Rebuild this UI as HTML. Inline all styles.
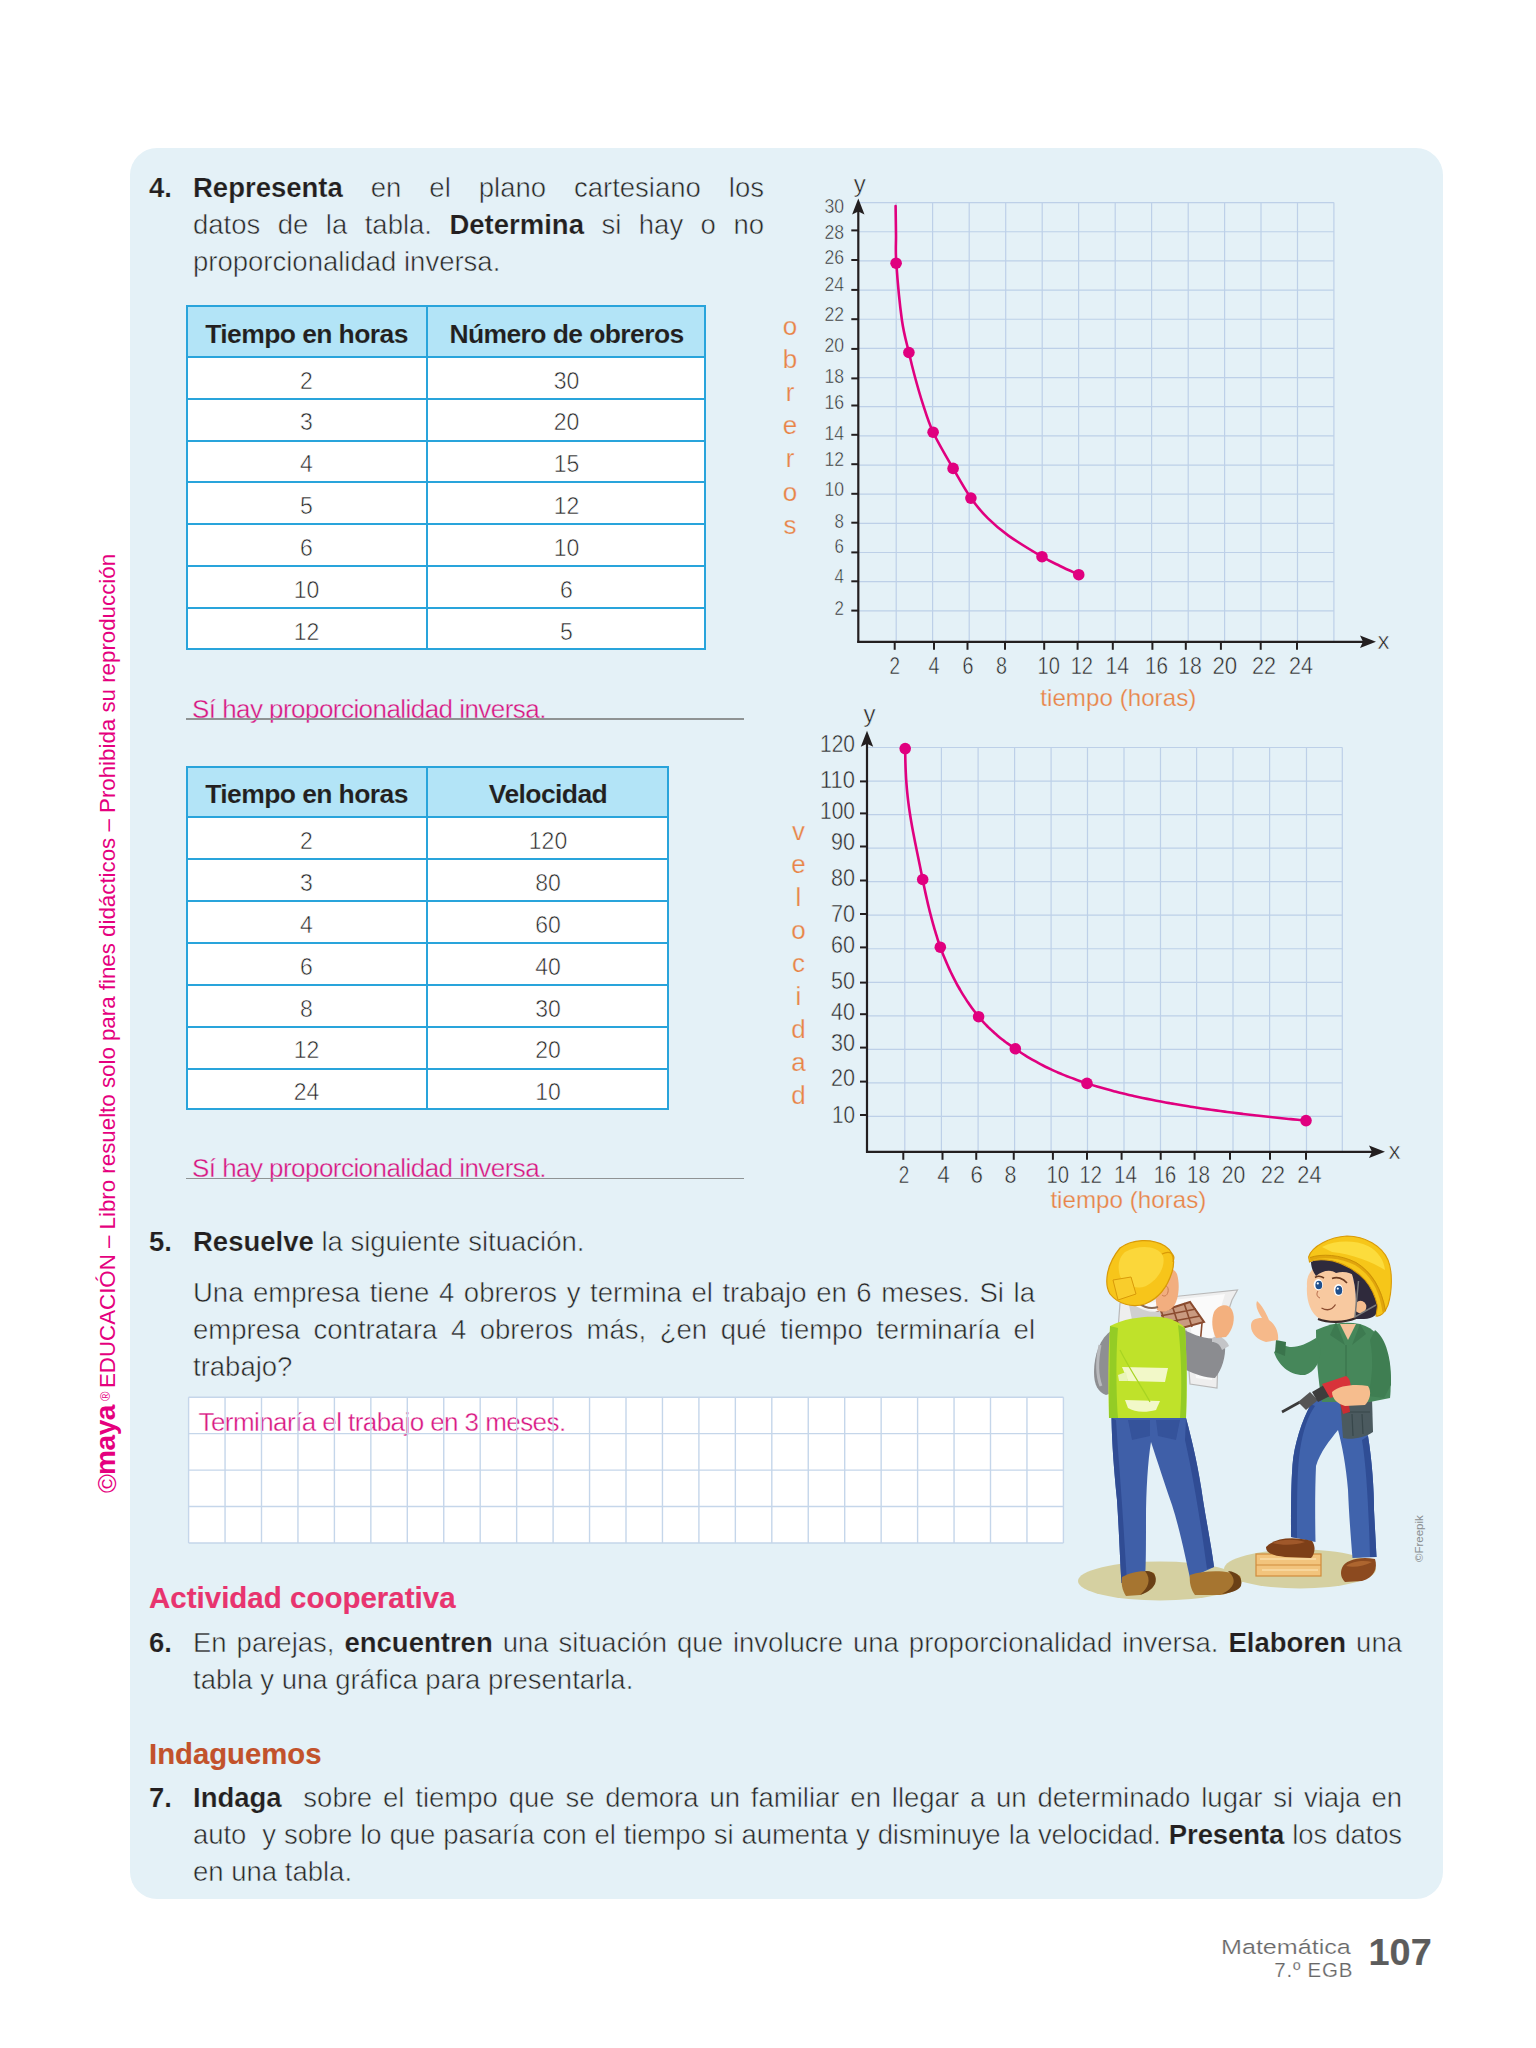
<!DOCTYPE html>
<html><head><meta charset="utf-8"><style>
*{margin:0;padding:0;box-sizing:border-box}
html,body{width:1536px;height:2048px;background:#fff;overflow:hidden}
body{position:relative;font-family:"Liberation Sans",sans-serif;color:#262626}
.panel{position:absolute;left:130px;top:148px;width:1313px;height:1751px;border-radius:27px;background:#e4f1f7}
.ln{position:absolute;line-height:0;white-space:nowrap;-webkit-text-stroke:0.55px #e4f1f7}
.tb .ln{-webkit-text-stroke:0.55px #fff}
b{-webkit-text-stroke:0.2px #e4f1f7}
.j{text-align:justify;text-align-last:justify;white-space:normal}
b{font-weight:bold;color:#231f20}
svg{position:absolute;left:0;top:0}
</style></head>
<body><div class="panel"></div>
<div class="ln" style="left:149px;top:187.97px;font-size:27.5px;"><b>4.</b></div><div class="ln j" style="left:193px;top:187.97px;font-size:27.5px;width:571px;"><b>Representa</b> en el plano cartesiano los</div><div class="ln j" style="left:193px;top:225.07px;font-size:27.5px;width:571px;">datos de la tabla. <b>Determina</b> si hay o no</div><div class="ln" style="left:193px;top:262.07px;font-size:27.5px;">proporcionalidad inversa.</div><div class="tb" style="position:absolute;left:186px;top:305px;width:520px;height:344.95px;"><div style="position:absolute;left:0;top:0;width:520px;height:52px;background:#b3e4f7"></div><div style="position:absolute;left:0;top:52px;width:520px;height:292.95px;background:#fff"></div><div class="ln" style="left:0px;width:241px;text-align:center;top:28.72px;font-size:26.5px;font-weight:bold;color:#231f20;letter-spacing:-0.6px;-webkit-text-stroke:0.1px #b3e4f7">Tiempo en horas</div><div class="ln" style="left:0px;width:241px;text-align:center;top:75.63px;font-size:23px">2</div><div class="ln" style="left:0px;width:241px;text-align:center;top:117.48px;font-size:23px">3</div><div class="ln" style="left:0px;width:241px;text-align:center;top:159.33px;font-size:23px">4</div><div class="ln" style="left:0px;width:241px;text-align:center;top:201.18px;font-size:23px">5</div><div class="ln" style="left:0px;width:241px;text-align:center;top:243.03px;font-size:23px">6</div><div class="ln" style="left:0px;width:241px;text-align:center;top:284.88px;font-size:23px">10</div><div class="ln" style="left:0px;width:241px;text-align:center;top:326.73px;font-size:23px">12</div><div class="ln" style="left:241px;width:279px;text-align:center;top:28.72px;font-size:26.5px;font-weight:bold;color:#231f20;letter-spacing:-0.6px;-webkit-text-stroke:0.1px #b3e4f7">Número de obreros</div><div class="ln" style="left:241px;width:279px;text-align:center;top:75.63px;font-size:23px">30</div><div class="ln" style="left:241px;width:279px;text-align:center;top:117.48px;font-size:23px">20</div><div class="ln" style="left:241px;width:279px;text-align:center;top:159.33px;font-size:23px">15</div><div class="ln" style="left:241px;width:279px;text-align:center;top:201.18px;font-size:23px">12</div><div class="ln" style="left:241px;width:279px;text-align:center;top:243.03px;font-size:23px">10</div><div class="ln" style="left:241px;width:279px;text-align:center;top:284.88px;font-size:23px">6</div><div class="ln" style="left:241px;width:279px;text-align:center;top:326.73px;font-size:23px">5</div><div style="position:absolute;left:0;top:0;width:520px;height:344.95px;border:2.2px solid #29a4db"></div><div style="position:absolute;left:0;top:51.00px;width:520px;height:2.2px;background:#29a4db"></div><div style="position:absolute;left:0;top:93.00px;width:520px;height:2.2px;background:#29a4db"></div><div style="position:absolute;left:0;top:135.00px;width:520px;height:2.2px;background:#29a4db"></div><div style="position:absolute;left:0;top:176.00px;width:520px;height:2.2px;background:#29a4db"></div><div style="position:absolute;left:0;top:218.00px;width:520px;height:2.2px;background:#29a4db"></div><div style="position:absolute;left:0;top:260.00px;width:520px;height:2.2px;background:#29a4db"></div><div style="position:absolute;left:0;top:302.00px;width:520px;height:2.2px;background:#29a4db"></div><div style="position:absolute;left:240px;top:0;width:2.2px;height:344.95px;background:#29a4db"></div></div><div class="tb" style="position:absolute;left:186px;top:765.5px;width:483px;height:344.95px;"><div style="position:absolute;left:0;top:0;width:483px;height:52px;background:#b3e4f7"></div><div style="position:absolute;left:0;top:52px;width:483px;height:292.95px;background:#fff"></div><div class="ln" style="left:0px;width:241px;text-align:center;top:28.72px;font-size:26.5px;font-weight:bold;color:#231f20;letter-spacing:-0.6px;-webkit-text-stroke:0.1px #b3e4f7">Tiempo en horas</div><div class="ln" style="left:0px;width:241px;text-align:center;top:75.63px;font-size:23px">2</div><div class="ln" style="left:0px;width:241px;text-align:center;top:117.48px;font-size:23px">3</div><div class="ln" style="left:0px;width:241px;text-align:center;top:159.33px;font-size:23px">4</div><div class="ln" style="left:0px;width:241px;text-align:center;top:201.18px;font-size:23px">6</div><div class="ln" style="left:0px;width:241px;text-align:center;top:243.03px;font-size:23px">8</div><div class="ln" style="left:0px;width:241px;text-align:center;top:284.88px;font-size:23px">12</div><div class="ln" style="left:0px;width:241px;text-align:center;top:326.73px;font-size:23px">24</div><div class="ln" style="left:241px;width:242px;text-align:center;top:28.72px;font-size:26.5px;font-weight:bold;color:#231f20;letter-spacing:-0.6px;-webkit-text-stroke:0.1px #b3e4f7">Velocidad</div><div class="ln" style="left:241px;width:242px;text-align:center;top:75.63px;font-size:23px">120</div><div class="ln" style="left:241px;width:242px;text-align:center;top:117.48px;font-size:23px">80</div><div class="ln" style="left:241px;width:242px;text-align:center;top:159.33px;font-size:23px">60</div><div class="ln" style="left:241px;width:242px;text-align:center;top:201.18px;font-size:23px">40</div><div class="ln" style="left:241px;width:242px;text-align:center;top:243.03px;font-size:23px">30</div><div class="ln" style="left:241px;width:242px;text-align:center;top:284.88px;font-size:23px">20</div><div class="ln" style="left:241px;width:242px;text-align:center;top:326.73px;font-size:23px">10</div><div style="position:absolute;left:0;top:0;width:483px;height:344.95px;border:2.2px solid #29a4db"></div><div style="position:absolute;left:0;top:50.50px;width:483px;height:2.2px;background:#29a4db"></div><div style="position:absolute;left:0;top:92.50px;width:483px;height:2.2px;background:#29a4db"></div><div style="position:absolute;left:0;top:134.50px;width:483px;height:2.2px;background:#29a4db"></div><div style="position:absolute;left:0;top:176.50px;width:483px;height:2.2px;background:#29a4db"></div><div style="position:absolute;left:0;top:218.50px;width:483px;height:2.2px;background:#29a4db"></div><div style="position:absolute;left:0;top:260.50px;width:483px;height:2.2px;background:#29a4db"></div><div style="position:absolute;left:0;top:302.50px;width:483px;height:2.2px;background:#29a4db"></div><div style="position:absolute;left:240px;top:0;width:2.2px;height:344.95px;background:#29a4db"></div></div><div class="ln" style="left:192px;top:709.49px;font-size:26px;color:#d81682;letter-spacing:-0.55px;-webkit-text-stroke:0.35px #e4f1f7;">Sí hay proporcionalidad inversa.</div><div style="position:absolute;left:186px;top:718.3px;width:558px;height:1.6px;background:#8f9394"></div><div class="ln" style="left:192px;top:1168.49px;font-size:26px;color:#d81682;letter-spacing:-0.55px;-webkit-text-stroke:0.35px #e4f1f7;">Sí hay proporcionalidad inversa.</div><div style="position:absolute;left:186px;top:1177.5px;width:558px;height:1.6px;background:#8f9394"></div><div class="ln" style="left:149px;top:1242.27px;font-size:27.5px;"><b>5.</b></div><div class="ln" style="left:193px;top:1242.27px;font-size:27.5px;"><b>Resuelve</b> la siguiente situación.</div><div class="ln j" style="left:193px;top:1293.37px;font-size:27.5px;width:842px;">Una empresa tiene 4 obreros y termina el trabajo en 6 meses. Si la</div><div class="ln j" style="left:193px;top:1330.17px;font-size:27.5px;width:842px;">empresa contratara 4 obreros más, ¿en qué tiempo terminaría el</div><div class="ln" style="left:193px;top:1366.57px;font-size:27.5px;">trabajo?</div><svg width="1536" height="2048" style="position:absolute;left:0;top:0"><rect x="188.6" y="1397.2" width="874.80" height="145.80" fill="#fff"/></svg><div class="ln" style="left:198.5px;top:1422.19px;font-size:26px;color:#d81682;letter-spacing:-0.57px;-webkit-text-stroke:0.35px #fff;">Terminaría el trabajo en 3 meses.</div><svg width="1536" height="2048" style="position:absolute;left:0;top:0"><line x1="188.60" y1="1397.2" x2="188.60" y2="1543.00" stroke="#c5d6ea" stroke-width="1.4"/><line x1="225.05" y1="1397.2" x2="225.05" y2="1543.00" stroke="#c5d6ea" stroke-width="1.4"/><line x1="261.50" y1="1397.2" x2="261.50" y2="1543.00" stroke="#c5d6ea" stroke-width="1.4"/><line x1="297.95" y1="1397.2" x2="297.95" y2="1543.00" stroke="#c5d6ea" stroke-width="1.4"/><line x1="334.40" y1="1397.2" x2="334.40" y2="1543.00" stroke="#c5d6ea" stroke-width="1.4"/><line x1="370.85" y1="1397.2" x2="370.85" y2="1543.00" stroke="#c5d6ea" stroke-width="1.4"/><line x1="407.30" y1="1397.2" x2="407.30" y2="1543.00" stroke="#c5d6ea" stroke-width="1.4"/><line x1="443.75" y1="1397.2" x2="443.75" y2="1543.00" stroke="#c5d6ea" stroke-width="1.4"/><line x1="480.20" y1="1397.2" x2="480.20" y2="1543.00" stroke="#c5d6ea" stroke-width="1.4"/><line x1="516.65" y1="1397.2" x2="516.65" y2="1543.00" stroke="#c5d6ea" stroke-width="1.4"/><line x1="553.10" y1="1397.2" x2="553.10" y2="1543.00" stroke="#c5d6ea" stroke-width="1.4"/><line x1="589.55" y1="1397.2" x2="589.55" y2="1543.00" stroke="#c5d6ea" stroke-width="1.4"/><line x1="626.00" y1="1397.2" x2="626.00" y2="1543.00" stroke="#c5d6ea" stroke-width="1.4"/><line x1="662.45" y1="1397.2" x2="662.45" y2="1543.00" stroke="#c5d6ea" stroke-width="1.4"/><line x1="698.90" y1="1397.2" x2="698.90" y2="1543.00" stroke="#c5d6ea" stroke-width="1.4"/><line x1="735.35" y1="1397.2" x2="735.35" y2="1543.00" stroke="#c5d6ea" stroke-width="1.4"/><line x1="771.80" y1="1397.2" x2="771.80" y2="1543.00" stroke="#c5d6ea" stroke-width="1.4"/><line x1="808.25" y1="1397.2" x2="808.25" y2="1543.00" stroke="#c5d6ea" stroke-width="1.4"/><line x1="844.70" y1="1397.2" x2="844.70" y2="1543.00" stroke="#c5d6ea" stroke-width="1.4"/><line x1="881.15" y1="1397.2" x2="881.15" y2="1543.00" stroke="#c5d6ea" stroke-width="1.4"/><line x1="917.60" y1="1397.2" x2="917.60" y2="1543.00" stroke="#c5d6ea" stroke-width="1.4"/><line x1="954.05" y1="1397.2" x2="954.05" y2="1543.00" stroke="#c5d6ea" stroke-width="1.4"/><line x1="990.50" y1="1397.2" x2="990.50" y2="1543.00" stroke="#c5d6ea" stroke-width="1.4"/><line x1="1026.95" y1="1397.2" x2="1026.95" y2="1543.00" stroke="#c5d6ea" stroke-width="1.4"/><line x1="1063.40" y1="1397.2" x2="1063.40" y2="1543.00" stroke="#c5d6ea" stroke-width="1.4"/><line x1="188.6" y1="1397.20" x2="1063.40" y2="1397.20" stroke="#c5d6ea" stroke-width="1.4"/><line x1="188.6" y1="1433.65" x2="1063.40" y2="1433.65" stroke="#c5d6ea" stroke-width="1.4"/><line x1="188.6" y1="1470.10" x2="1063.40" y2="1470.10" stroke="#c5d6ea" stroke-width="1.4"/><line x1="188.6" y1="1506.55" x2="1063.40" y2="1506.55" stroke="#c5d6ea" stroke-width="1.4"/><line x1="188.6" y1="1543.00" x2="1063.40" y2="1543.00" stroke="#c5d6ea" stroke-width="1.4"/></svg><div class="ln" style="left:149px;top:1598.08px;font-size:29.5px;color:#e8346f;font-weight:bold;-webkit-text-stroke:0.15px #e8346f;">Actividad cooperativa</div><div class="ln" style="left:149px;top:1642.77px;font-size:27.5px;"><b>6.</b></div><div class="ln j" style="left:193px;top:1642.77px;font-size:27.5px;width:1209px;">En parejas, <b>encuentren</b> una situación que involucre una proporcionalidad inversa. <b>Elaboren</b> una</div><div class="ln" style="left:193px;top:1680.17px;font-size:27.5px;">tabla y una gráfica para presentarla.</div><div class="ln" style="left:149px;top:1754.45px;font-size:29.3px;color:#c2522b;font-weight:bold;-webkit-text-stroke:0.15px #c2522b;">Indaguemos</div><div class="ln" style="left:149px;top:1798.37px;font-size:27.5px;"><b>7.</b></div><div class="ln j" style="left:193px;top:1798.37px;font-size:27.5px;width:1209px;"><b>Indaga</b>&nbsp; sobre el tiempo que se demora un familiar en llegar a un determinado lugar si viaja en</div><div class="ln j" style="left:193px;top:1835.37px;font-size:27.5px;width:1209px;letter-spacing:-0.1px;">auto&nbsp; y sobre lo que pasaría con el tiempo si aumenta y disminuye la velocidad. <b>Presenta</b> los datos</div><div class="ln" style="left:193px;top:1872.27px;font-size:27.5px;">en una tabla.</div><div class="ln" style="left:1221.3px;top:1946.70px;font-size:20.5px;color:#686868;transform:scaleX(1.225);transform-origin:0 0;-webkit-text-stroke:0.2px #fff;">Matemática</div><div class="ln" style="left:1274.3px;top:1970.00px;font-size:20.5px;color:#686868;letter-spacing:0.75px;-webkit-text-stroke:0.2px #fff;">7.º EGB</div><div class="ln" style="left:1368.6px;top:1951.60px;font-size:37.8px;color:#5c5c5c;font-weight:bold;-webkit-text-stroke:0.2px #5c5c5c;">107</div><div style="position:absolute;left:107.16px;top:1493.2px;transform-origin:0 0;transform:rotate(-90deg);white-space:nowrap;line-height:0;font-size:25.5px;color:#e5007e;">©</div><div style="position:absolute;left:106.30px;top:1474.5px;transform-origin:0 0;transform:rotate(-90deg);white-space:nowrap;line-height:0;font-size:28px;color:#e5007e;font-weight:bold;letter-spacing:-0.4px;">maya</div><div style="position:absolute;left:105.50px;top:1401px;transform-origin:0 0;transform:rotate(-90deg);white-space:nowrap;line-height:0;font-size:13px;color:#e5007e;">®</div><div style="position:absolute;left:108.27px;top:1387.6px;transform-origin:0 0;transform:rotate(-90deg);white-space:nowrap;line-height:0;font-size:22.3px;color:#e5007e;">EDUCACIÓN – Libro resuelto solo para fines didácticos – Prohibida su reproducción</div><svg width="1536" height="2048" style="position:absolute;left:0;top:0" font-family="Liberation Sans, sans-serif"><line x1="896.20" y1="202.60" x2="896.20" y2="641.80" stroke="#bdd0e8" stroke-width="1.2"/><line x1="932.60" y1="202.60" x2="932.60" y2="641.80" stroke="#bdd0e8" stroke-width="1.2"/><line x1="969.20" y1="202.60" x2="969.20" y2="641.80" stroke="#bdd0e8" stroke-width="1.2"/><line x1="1005.70" y1="202.60" x2="1005.70" y2="641.80" stroke="#bdd0e8" stroke-width="1.2"/><line x1="1042.20" y1="202.60" x2="1042.20" y2="641.80" stroke="#bdd0e8" stroke-width="1.2"/><line x1="1078.60" y1="202.60" x2="1078.60" y2="641.80" stroke="#bdd0e8" stroke-width="1.2"/><line x1="1115.20" y1="202.60" x2="1115.20" y2="641.80" stroke="#bdd0e8" stroke-width="1.2"/><line x1="1151.60" y1="202.60" x2="1151.60" y2="641.80" stroke="#bdd0e8" stroke-width="1.2"/><line x1="1188.20" y1="202.60" x2="1188.20" y2="641.80" stroke="#bdd0e8" stroke-width="1.2"/><line x1="1224.60" y1="202.60" x2="1224.60" y2="641.80" stroke="#bdd0e8" stroke-width="1.2"/><line x1="1261.00" y1="202.60" x2="1261.00" y2="641.80" stroke="#bdd0e8" stroke-width="1.2"/><line x1="1297.50" y1="202.60" x2="1297.50" y2="641.80" stroke="#bdd0e8" stroke-width="1.2"/><line x1="1333.90" y1="202.60" x2="1333.90" y2="641.80" stroke="#bdd0e8" stroke-width="1.2"/><line x1="858.30" y1="202.60" x2="1333.90" y2="202.60" stroke="#bdd0e8" stroke-width="1.2"/><line x1="858.30" y1="231.76" x2="1333.90" y2="231.76" stroke="#bdd0e8" stroke-width="1.2"/><line x1="858.30" y1="260.92" x2="1333.90" y2="260.92" stroke="#bdd0e8" stroke-width="1.2"/><line x1="858.30" y1="290.08" x2="1333.90" y2="290.08" stroke="#bdd0e8" stroke-width="1.2"/><line x1="858.30" y1="319.24" x2="1333.90" y2="319.24" stroke="#bdd0e8" stroke-width="1.2"/><line x1="858.30" y1="348.40" x2="1333.90" y2="348.40" stroke="#bdd0e8" stroke-width="1.2"/><line x1="858.30" y1="377.56" x2="1333.90" y2="377.56" stroke="#bdd0e8" stroke-width="1.2"/><line x1="858.30" y1="406.72" x2="1333.90" y2="406.72" stroke="#bdd0e8" stroke-width="1.2"/><line x1="858.30" y1="435.88" x2="1333.90" y2="435.88" stroke="#bdd0e8" stroke-width="1.2"/><line x1="858.30" y1="465.04" x2="1333.90" y2="465.04" stroke="#bdd0e8" stroke-width="1.2"/><line x1="858.30" y1="494.20" x2="1333.90" y2="494.20" stroke="#bdd0e8" stroke-width="1.2"/><line x1="858.30" y1="523.36" x2="1333.90" y2="523.36" stroke="#bdd0e8" stroke-width="1.2"/><line x1="858.30" y1="552.52" x2="1333.90" y2="552.52" stroke="#bdd0e8" stroke-width="1.2"/><line x1="858.30" y1="581.68" x2="1333.90" y2="581.68" stroke="#bdd0e8" stroke-width="1.2"/><line x1="858.30" y1="610.84" x2="1333.90" y2="610.84" stroke="#bdd0e8" stroke-width="1.2"/><line x1="858.30" y1="206.60" x2="858.30" y2="642.80" stroke="#231f20" stroke-width="2.2"/><line x1="857.30" y1="641.80" x2="1368.00" y2="641.80" stroke="#231f20" stroke-width="2.2"/><path d="M858.30,198.60 L864.50,214.60 L858.30,211.60 L852.10,214.60Z" fill="#231f20"/><path d="M1376.00,641.80 L1360.00,635.60 L1363.00,641.80 L1360.00,648.00Z" fill="#231f20"/><line x1="851.30" y1="230.40" x2="858.30" y2="230.40" stroke="#231f20" stroke-width="2"/><line x1="851.30" y1="260.00" x2="858.30" y2="260.00" stroke="#231f20" stroke-width="2"/><line x1="851.30" y1="289.90" x2="858.30" y2="289.90" stroke="#231f20" stroke-width="2"/><line x1="851.30" y1="319.20" x2="858.30" y2="319.20" stroke="#231f20" stroke-width="2"/><line x1="851.30" y1="348.90" x2="858.30" y2="348.90" stroke="#231f20" stroke-width="2"/><line x1="851.30" y1="378.40" x2="858.30" y2="378.40" stroke="#231f20" stroke-width="2"/><line x1="851.30" y1="405.50" x2="858.30" y2="405.50" stroke="#231f20" stroke-width="2"/><line x1="851.30" y1="434.80" x2="858.30" y2="434.80" stroke="#231f20" stroke-width="2"/><line x1="851.30" y1="464.20" x2="858.30" y2="464.20" stroke="#231f20" stroke-width="2"/><line x1="851.30" y1="493.80" x2="858.30" y2="493.80" stroke="#231f20" stroke-width="2"/><line x1="851.30" y1="522.70" x2="858.30" y2="522.70" stroke="#231f20" stroke-width="2"/><line x1="851.30" y1="552.40" x2="858.30" y2="552.40" stroke="#231f20" stroke-width="2"/><line x1="851.30" y1="581.30" x2="858.30" y2="581.30" stroke="#231f20" stroke-width="2"/><line x1="851.30" y1="610.60" x2="858.30" y2="610.60" stroke="#231f20" stroke-width="2"/><line x1="894.70" y1="641.80" x2="894.70" y2="649.80" stroke="#231f20" stroke-width="2"/><line x1="934.00" y1="641.80" x2="934.00" y2="649.80" stroke="#231f20" stroke-width="2"/><line x1="967.50" y1="641.80" x2="967.50" y2="649.80" stroke="#231f20" stroke-width="2"/><line x1="1005.00" y1="641.80" x2="1005.00" y2="649.80" stroke="#231f20" stroke-width="2"/><line x1="1044.20" y1="641.80" x2="1044.20" y2="649.80" stroke="#231f20" stroke-width="2"/><line x1="1077.60" y1="641.80" x2="1077.60" y2="649.80" stroke="#231f20" stroke-width="2"/><line x1="1112.80" y1="641.80" x2="1112.80" y2="649.80" stroke="#231f20" stroke-width="2"/><line x1="1152.40" y1="641.80" x2="1152.40" y2="649.80" stroke="#231f20" stroke-width="2"/><line x1="1185.80" y1="641.80" x2="1185.80" y2="649.80" stroke="#231f20" stroke-width="2"/><line x1="1220.90" y1="641.80" x2="1220.90" y2="649.80" stroke="#231f20" stroke-width="2"/><line x1="1260.70" y1="641.80" x2="1260.70" y2="649.80" stroke="#231f20" stroke-width="2"/><line x1="1297.00" y1="641.80" x2="1297.00" y2="649.80" stroke="#231f20" stroke-width="2"/><text x="844.00" y="212.90" font-size="20.2" fill="#262626" stroke="#e4f1f7" stroke-width="0.5" text-anchor="end" textLength="19.6" lengthAdjust="spacingAndGlyphs">30</text><text x="844.00" y="238.60" font-size="20.2" fill="#262626" stroke="#e4f1f7" stroke-width="0.5" text-anchor="end" textLength="19.6" lengthAdjust="spacingAndGlyphs">28</text><text x="844.00" y="264.40" font-size="20.2" fill="#262626" stroke="#e4f1f7" stroke-width="0.5" text-anchor="end" textLength="19.6" lengthAdjust="spacingAndGlyphs">26</text><text x="844.00" y="290.60" font-size="20.2" fill="#262626" stroke="#e4f1f7" stroke-width="0.5" text-anchor="end" textLength="19.6" lengthAdjust="spacingAndGlyphs">24</text><text x="844.00" y="321.40" font-size="20.2" fill="#262626" stroke="#e4f1f7" stroke-width="0.5" text-anchor="end" textLength="19.6" lengthAdjust="spacingAndGlyphs">22</text><text x="844.00" y="352.20" font-size="20.2" fill="#262626" stroke="#e4f1f7" stroke-width="0.5" text-anchor="end" textLength="19.6" lengthAdjust="spacingAndGlyphs">20</text><text x="844.00" y="383.00" font-size="20.2" fill="#262626" stroke="#e4f1f7" stroke-width="0.5" text-anchor="end" textLength="19.6" lengthAdjust="spacingAndGlyphs">18</text><text x="844.00" y="408.60" font-size="20.2" fill="#262626" stroke="#e4f1f7" stroke-width="0.5" text-anchor="end" textLength="19.6" lengthAdjust="spacingAndGlyphs">16</text><text x="844.00" y="439.90" font-size="20.2" fill="#262626" stroke="#e4f1f7" stroke-width="0.5" text-anchor="end" textLength="19.6" lengthAdjust="spacingAndGlyphs">14</text><text x="844.00" y="465.50" font-size="20.2" fill="#262626" stroke="#e4f1f7" stroke-width="0.5" text-anchor="end" textLength="19.6" lengthAdjust="spacingAndGlyphs">12</text><text x="844.00" y="496.30" font-size="20.2" fill="#262626" stroke="#e4f1f7" stroke-width="0.5" text-anchor="end" textLength="19.6" lengthAdjust="spacingAndGlyphs">10</text><text x="844.00" y="527.50" font-size="20.2" fill="#262626" stroke="#e4f1f7" stroke-width="0.5" text-anchor="end" textLength="9.4" lengthAdjust="spacingAndGlyphs">8</text><text x="844.00" y="552.70" font-size="20.2" fill="#262626" stroke="#e4f1f7" stroke-width="0.5" text-anchor="end" textLength="9.4" lengthAdjust="spacingAndGlyphs">6</text><text x="844.00" y="583.40" font-size="20.2" fill="#262626" stroke="#e4f1f7" stroke-width="0.5" text-anchor="end" textLength="9.4" lengthAdjust="spacingAndGlyphs">4</text><text x="844.00" y="614.50" font-size="20.2" fill="#262626" stroke="#e4f1f7" stroke-width="0.5" text-anchor="end" textLength="9.4" lengthAdjust="spacingAndGlyphs">2</text><text x="889.50" y="673.50" font-size="23.5" fill="#262626" stroke="#e4f1f7" stroke-width="0.5" textLength="10.5" lengthAdjust="spacingAndGlyphs">2</text><text x="928.50" y="673.50" font-size="23.5" fill="#262626" stroke="#e4f1f7" stroke-width="0.5" textLength="11" lengthAdjust="spacingAndGlyphs">4</text><text x="962.50" y="673.50" font-size="23.5" fill="#262626" stroke="#e4f1f7" stroke-width="0.5" textLength="11" lengthAdjust="spacingAndGlyphs">6</text><text x="996.00" y="673.50" font-size="23.5" fill="#262626" stroke="#e4f1f7" stroke-width="0.5" textLength="11" lengthAdjust="spacingAndGlyphs">8</text><text x="1037.50" y="673.50" font-size="23.5" fill="#262626" stroke="#e4f1f7" stroke-width="0.5" textLength="22.3" lengthAdjust="spacingAndGlyphs">10</text><text x="1070.70" y="673.50" font-size="23.5" fill="#262626" stroke="#e4f1f7" stroke-width="0.5" textLength="22.3" lengthAdjust="spacingAndGlyphs">12</text><text x="1105.40" y="673.50" font-size="23.5" fill="#262626" stroke="#e4f1f7" stroke-width="0.5" textLength="23.5" lengthAdjust="spacingAndGlyphs">14</text><text x="1145.00" y="673.50" font-size="23.5" fill="#262626" stroke="#e4f1f7" stroke-width="0.5" textLength="23" lengthAdjust="spacingAndGlyphs">16</text><text x="1178.30" y="673.50" font-size="23.5" fill="#262626" stroke="#e4f1f7" stroke-width="0.5" textLength="23.5" lengthAdjust="spacingAndGlyphs">18</text><text x="1212.50" y="673.50" font-size="23.5" fill="#262626" stroke="#e4f1f7" stroke-width="0.5" textLength="24.7" lengthAdjust="spacingAndGlyphs">20</text><text x="1252.00" y="673.50" font-size="23.5" fill="#262626" stroke="#e4f1f7" stroke-width="0.5" textLength="24" lengthAdjust="spacingAndGlyphs">22</text><text x="1289.00" y="673.50" font-size="23.5" fill="#262626" stroke="#e4f1f7" stroke-width="0.5" textLength="24" lengthAdjust="spacingAndGlyphs">24</text><path d="M895.60,206.00 C895.67,210.83 895.88,225.47 896.00,235.00 C896.12,244.53 895.32,249.03 896.30,263.20 C897.28,277.37 899.80,305.12 901.90,320.00 C904.00,334.88 906.77,343.17 908.90,352.50 C911.03,361.83 912.43,367.62 914.70,376.00 C916.97,384.38 919.43,393.43 922.50,402.80 C925.57,412.17 928.00,421.27 933.10,432.20 C938.20,443.13 946.80,457.42 953.10,468.40 C959.40,479.38 965.08,489.77 970.90,498.10 C976.72,506.43 981.75,512.15 988.00,518.40 C994.25,524.65 999.40,529.22 1008.40,535.60 C1017.40,541.98 1033.40,551.63 1042.00,556.70 C1050.60,561.77 1053.88,563.00 1060.00,566.00 C1066.12,569.00 1075.62,573.25 1078.75,574.70" fill="none" stroke="#e0007f" stroke-width="2.6" stroke-linecap="round"/><circle cx="896.10" cy="263.20" r="5.8" fill="#e0007f"/><circle cx="908.90" cy="352.50" r="5.8" fill="#e0007f"/><circle cx="933.10" cy="432.20" r="5.8" fill="#e0007f"/><circle cx="953.10" cy="468.40" r="5.8" fill="#e0007f"/><circle cx="970.90" cy="498.10" r="5.8" fill="#e0007f"/><circle cx="1042.00" cy="556.70" r="5.8" fill="#e0007f"/><circle cx="1078.75" cy="574.70" r="5.8" fill="#e0007f"/><text x="790.00" y="334.50" font-size="26" fill="#e98346" stroke="#e4f1f7" stroke-width="0.25" text-anchor="middle">o</text><text x="790.00" y="367.70" font-size="26" fill="#e98346" stroke="#e4f1f7" stroke-width="0.25" text-anchor="middle">b</text><text x="790.00" y="400.90" font-size="26" fill="#e98346" stroke="#e4f1f7" stroke-width="0.25" text-anchor="middle">r</text><text x="790.00" y="434.10" font-size="26" fill="#e98346" stroke="#e4f1f7" stroke-width="0.25" text-anchor="middle">e</text><text x="790.00" y="467.30" font-size="26" fill="#e98346" stroke="#e4f1f7" stroke-width="0.25" text-anchor="middle">r</text><text x="790.00" y="500.50" font-size="26" fill="#e98346" stroke="#e4f1f7" stroke-width="0.25" text-anchor="middle">o</text><text x="790.00" y="533.70" font-size="26" fill="#e98346" stroke="#e4f1f7" stroke-width="0.25" text-anchor="middle">s</text><text x="1040.30" y="705.50" font-size="24" fill="#e98346" stroke="#e4f1f7" stroke-width="0.25" textLength="156" lengthAdjust="spacingAndGlyphs">tiempo (horas)</text><text x="853.80" y="192.00" font-size="24" fill="#231f20" stroke="#e4f1f7" stroke-width="0.5">y</text><text x="1377.50" y="648.50" font-size="24" fill="#231f20" stroke="#e4f1f7" stroke-width="0.5">x</text><line x1="904.80" y1="747.50" x2="904.80" y2="1151.80" stroke="#bdd0e8" stroke-width="1.2"/><line x1="941.40" y1="747.50" x2="941.40" y2="1151.80" stroke="#bdd0e8" stroke-width="1.2"/><line x1="978.10" y1="747.50" x2="978.10" y2="1151.80" stroke="#bdd0e8" stroke-width="1.2"/><line x1="1014.60" y1="747.50" x2="1014.60" y2="1151.80" stroke="#bdd0e8" stroke-width="1.2"/><line x1="1051.10" y1="747.50" x2="1051.10" y2="1151.80" stroke="#bdd0e8" stroke-width="1.2"/><line x1="1087.50" y1="747.50" x2="1087.50" y2="1151.80" stroke="#bdd0e8" stroke-width="1.2"/><line x1="1124.00" y1="747.50" x2="1124.00" y2="1151.80" stroke="#bdd0e8" stroke-width="1.2"/><line x1="1160.50" y1="747.50" x2="1160.50" y2="1151.80" stroke="#bdd0e8" stroke-width="1.2"/><line x1="1196.60" y1="747.50" x2="1196.60" y2="1151.80" stroke="#bdd0e8" stroke-width="1.2"/><line x1="1233.00" y1="747.50" x2="1233.00" y2="1151.80" stroke="#bdd0e8" stroke-width="1.2"/><line x1="1269.60" y1="747.50" x2="1269.60" y2="1151.80" stroke="#bdd0e8" stroke-width="1.2"/><line x1="1306.50" y1="747.50" x2="1306.50" y2="1151.80" stroke="#bdd0e8" stroke-width="1.2"/><line x1="1342.30" y1="747.50" x2="1342.30" y2="1151.80" stroke="#bdd0e8" stroke-width="1.2"/><line x1="867.00" y1="747.50" x2="1342.30" y2="747.50" stroke="#bdd0e8" stroke-width="1.2"/><line x1="867.00" y1="781.04" x2="1342.30" y2="781.04" stroke="#bdd0e8" stroke-width="1.2"/><line x1="867.00" y1="814.58" x2="1342.30" y2="814.58" stroke="#bdd0e8" stroke-width="1.2"/><line x1="867.00" y1="848.12" x2="1342.30" y2="848.12" stroke="#bdd0e8" stroke-width="1.2"/><line x1="867.00" y1="881.66" x2="1342.30" y2="881.66" stroke="#bdd0e8" stroke-width="1.2"/><line x1="867.00" y1="915.20" x2="1342.30" y2="915.20" stroke="#bdd0e8" stroke-width="1.2"/><line x1="867.00" y1="948.74" x2="1342.30" y2="948.74" stroke="#bdd0e8" stroke-width="1.2"/><line x1="867.00" y1="982.28" x2="1342.30" y2="982.28" stroke="#bdd0e8" stroke-width="1.2"/><line x1="867.00" y1="1015.82" x2="1342.30" y2="1015.82" stroke="#bdd0e8" stroke-width="1.2"/><line x1="867.00" y1="1049.36" x2="1342.30" y2="1049.36" stroke="#bdd0e8" stroke-width="1.2"/><line x1="867.00" y1="1082.90" x2="1342.30" y2="1082.90" stroke="#bdd0e8" stroke-width="1.2"/><line x1="867.00" y1="1116.44" x2="1342.30" y2="1116.44" stroke="#bdd0e8" stroke-width="1.2"/><line x1="867.00" y1="738.70" x2="867.00" y2="1152.80" stroke="#231f20" stroke-width="2.2"/><line x1="866.00" y1="1151.80" x2="1377.00" y2="1151.80" stroke="#231f20" stroke-width="2.2"/><path d="M867.00,730.70 L873.20,746.70 L867.00,743.70 L860.80,746.70Z" fill="#231f20"/><path d="M1385.00,1151.80 L1369.00,1145.60 L1372.00,1151.80 L1369.00,1158.00Z" fill="#231f20"/><line x1="860.00" y1="781.40" x2="867.00" y2="781.40" stroke="#231f20" stroke-width="2"/><line x1="860.00" y1="813.40" x2="867.00" y2="813.40" stroke="#231f20" stroke-width="2"/><line x1="860.00" y1="846.50" x2="867.00" y2="846.50" stroke="#231f20" stroke-width="2"/><line x1="860.00" y1="880.50" x2="867.00" y2="880.50" stroke="#231f20" stroke-width="2"/><line x1="860.00" y1="914.00" x2="867.00" y2="914.00" stroke="#231f20" stroke-width="2"/><line x1="860.00" y1="947.40" x2="867.00" y2="947.40" stroke="#231f20" stroke-width="2"/><line x1="860.00" y1="982.60" x2="867.00" y2="982.60" stroke="#231f20" stroke-width="2"/><line x1="860.00" y1="1014.20" x2="867.00" y2="1014.20" stroke="#231f20" stroke-width="2"/><line x1="860.00" y1="1047.60" x2="867.00" y2="1047.60" stroke="#231f20" stroke-width="2"/><line x1="860.00" y1="1081.60" x2="867.00" y2="1081.60" stroke="#231f20" stroke-width="2"/><line x1="860.00" y1="1115.00" x2="867.00" y2="1115.00" stroke="#231f20" stroke-width="2"/><line x1="903.30" y1="1151.80" x2="903.30" y2="1159.80" stroke="#231f20" stroke-width="2"/><line x1="942.50" y1="1151.80" x2="942.50" y2="1159.80" stroke="#231f20" stroke-width="2"/><line x1="976.25" y1="1151.80" x2="976.25" y2="1159.80" stroke="#231f20" stroke-width="2"/><line x1="1013.75" y1="1151.80" x2="1013.75" y2="1159.80" stroke="#231f20" stroke-width="2"/><line x1="1052.90" y1="1151.80" x2="1052.90" y2="1159.80" stroke="#231f20" stroke-width="2"/><line x1="1087.00" y1="1151.80" x2="1087.00" y2="1159.80" stroke="#231f20" stroke-width="2"/><line x1="1121.60" y1="1151.80" x2="1121.60" y2="1159.80" stroke="#231f20" stroke-width="2"/><line x1="1160.70" y1="1151.80" x2="1160.70" y2="1159.80" stroke="#231f20" stroke-width="2"/><line x1="1194.60" y1="1151.80" x2="1194.60" y2="1159.80" stroke="#231f20" stroke-width="2"/><line x1="1230.00" y1="1151.80" x2="1230.00" y2="1159.80" stroke="#231f20" stroke-width="2"/><line x1="1270.00" y1="1151.80" x2="1270.00" y2="1159.80" stroke="#231f20" stroke-width="2"/><line x1="1306.00" y1="1151.80" x2="1306.00" y2="1159.80" stroke="#231f20" stroke-width="2"/><text x="855.00" y="751.60" font-size="24.5" fill="#262626" stroke="#e4f1f7" stroke-width="0.5" text-anchor="end" textLength="35" lengthAdjust="spacingAndGlyphs">120</text><text x="855.00" y="787.70" font-size="24.5" fill="#262626" stroke="#e4f1f7" stroke-width="0.5" text-anchor="end" textLength="35" lengthAdjust="spacingAndGlyphs">110</text><text x="855.00" y="819.00" font-size="24.5" fill="#262626" stroke="#e4f1f7" stroke-width="0.5" text-anchor="end" textLength="35" lengthAdjust="spacingAndGlyphs">100</text><text x="855.00" y="849.80" font-size="24.5" fill="#262626" stroke="#e4f1f7" stroke-width="0.5" text-anchor="end" textLength="24" lengthAdjust="spacingAndGlyphs">90</text><text x="855.00" y="885.70" font-size="24.5" fill="#262626" stroke="#e4f1f7" stroke-width="0.5" text-anchor="end" textLength="24" lengthAdjust="spacingAndGlyphs">80</text><text x="855.00" y="921.60" font-size="24.5" fill="#262626" stroke="#e4f1f7" stroke-width="0.5" text-anchor="end" textLength="24" lengthAdjust="spacingAndGlyphs">70</text><text x="855.00" y="952.70" font-size="24.5" fill="#262626" stroke="#e4f1f7" stroke-width="0.5" text-anchor="end" textLength="24" lengthAdjust="spacingAndGlyphs">60</text><text x="855.00" y="989.00" font-size="24.5" fill="#262626" stroke="#e4f1f7" stroke-width="0.5" text-anchor="end" textLength="24" lengthAdjust="spacingAndGlyphs">50</text><text x="855.00" y="1019.50" font-size="24.5" fill="#262626" stroke="#e4f1f7" stroke-width="0.5" text-anchor="end" textLength="24" lengthAdjust="spacingAndGlyphs">40</text><text x="855.00" y="1050.50" font-size="24.5" fill="#262626" stroke="#e4f1f7" stroke-width="0.5" text-anchor="end" textLength="24" lengthAdjust="spacingAndGlyphs">30</text><text x="855.00" y="1086.30" font-size="24.5" fill="#262626" stroke="#e4f1f7" stroke-width="0.5" text-anchor="end" textLength="24" lengthAdjust="spacingAndGlyphs">20</text><text x="855.00" y="1122.70" font-size="24.5" fill="#262626" stroke="#e4f1f7" stroke-width="0.5" text-anchor="end" textLength="23" lengthAdjust="spacingAndGlyphs">10</text><text x="898.70" y="1183.00" font-size="23.5" fill="#262626" stroke="#e4f1f7" stroke-width="0.5" textLength="10.5" lengthAdjust="spacingAndGlyphs">2</text><text x="937.30" y="1183.00" font-size="23.5" fill="#262626" stroke="#e4f1f7" stroke-width="0.5" textLength="12.5" lengthAdjust="spacingAndGlyphs">4</text><text x="970.60" y="1183.00" font-size="23.5" fill="#262626" stroke="#e4f1f7" stroke-width="0.5" textLength="12.4" lengthAdjust="spacingAndGlyphs">6</text><text x="1004.60" y="1183.00" font-size="23.5" fill="#262626" stroke="#e4f1f7" stroke-width="0.5" textLength="11.9" lengthAdjust="spacingAndGlyphs">8</text><text x="1046.50" y="1183.00" font-size="23.5" fill="#262626" stroke="#e4f1f7" stroke-width="0.5" textLength="22.5" lengthAdjust="spacingAndGlyphs">10</text><text x="1079.60" y="1183.00" font-size="23.5" fill="#262626" stroke="#e4f1f7" stroke-width="0.5" textLength="22.3" lengthAdjust="spacingAndGlyphs">12</text><text x="1114.00" y="1183.00" font-size="23.5" fill="#262626" stroke="#e4f1f7" stroke-width="0.5" textLength="23" lengthAdjust="spacingAndGlyphs">14</text><text x="1153.80" y="1183.00" font-size="23.5" fill="#262626" stroke="#e4f1f7" stroke-width="0.5" textLength="22.4" lengthAdjust="spacingAndGlyphs">16</text><text x="1187.00" y="1183.00" font-size="23.5" fill="#262626" stroke="#e4f1f7" stroke-width="0.5" textLength="23" lengthAdjust="spacingAndGlyphs">18</text><text x="1221.80" y="1183.00" font-size="23.5" fill="#262626" stroke="#e4f1f7" stroke-width="0.5" textLength="23.5" lengthAdjust="spacingAndGlyphs">20</text><text x="1261.00" y="1183.00" font-size="23.5" fill="#262626" stroke="#e4f1f7" stroke-width="0.5" textLength="24" lengthAdjust="spacingAndGlyphs">22</text><text x="1297.30" y="1183.00" font-size="23.5" fill="#262626" stroke="#e4f1f7" stroke-width="0.5" textLength="24.2" lengthAdjust="spacingAndGlyphs">24</text><path d="M905.20,748.60 C905.23,750.65 905.27,756.96 905.37,760.90 C905.46,764.84 905.59,768.58 905.77,772.23 C905.94,775.89 906.15,779.38 906.40,782.82 C906.65,786.26 906.94,789.57 907.27,792.87 C907.60,796.17 907.97,799.37 908.37,802.60 C908.78,805.82 909.23,808.99 909.71,812.21 C910.20,815.43 910.72,818.64 911.29,821.93 C911.85,825.22 912.45,828.53 913.10,831.96 C913.74,835.40 914.42,838.88 915.14,842.52 C915.86,846.17 916.62,849.90 917.42,853.82 C918.22,857.75 919.06,861.80 919.94,866.08 C920.82,870.36 922.09,876.52 922.70,879.50 C923.31,882.48 923.29,882.48 923.58,883.93 C923.87,885.39 924.17,886.82 924.46,888.22 C924.75,889.63 925.05,891.01 925.34,892.38 C925.63,893.74 925.93,895.08 926.22,896.40 C926.51,897.72 926.81,899.02 927.10,900.31 C927.39,901.59 927.69,902.85 927.98,904.09 C928.27,905.33 928.57,906.56 928.86,907.76 C929.15,908.97 929.45,910.16 929.74,911.33 C930.03,912.50 930.33,913.65 930.62,914.79 C930.91,915.93 931.21,917.05 931.50,918.15 C931.79,919.26 932.09,920.35 932.38,921.42 C932.67,922.50 932.97,923.56 933.26,924.60 C933.55,925.65 933.85,926.68 934.14,927.70 C934.43,928.71 934.73,929.72 935.02,930.71 C935.31,931.70 935.61,932.67 935.90,933.64 C936.19,934.60 936.49,935.55 936.78,936.49 C937.07,937.43 937.37,938.36 937.66,939.27 C937.95,940.19 938.25,941.09 938.54,941.98 C938.83,942.87 939.13,943.75 939.42,944.62 C939.71,945.49 939.99,946.35 940.30,947.20 C940.61,948.05 940.78,948.50 941.26,949.75 C941.74,950.99 942.53,953.06 943.17,954.66 C943.81,956.26 944.45,957.82 945.09,959.35 C945.73,960.88 946.36,962.37 947.00,963.83 C947.64,965.29 948.28,966.71 948.92,968.11 C949.56,969.51 950.19,970.87 950.83,972.21 C951.47,973.54 952.11,974.85 952.75,976.13 C953.39,977.42 954.02,978.67 954.66,979.90 C955.30,981.13 955.94,982.33 956.58,983.52 C957.22,984.70 957.85,985.85 958.49,986.99 C959.13,988.13 959.77,989.24 960.41,990.33 C961.05,991.42 961.68,992.49 962.32,993.55 C962.96,994.60 963.60,995.63 964.24,996.64 C964.88,997.66 965.51,998.65 966.15,999.63 C966.79,1000.61 967.43,1001.57 968.07,1002.51 C968.71,1003.45 969.34,1004.38 969.98,1005.29 C970.62,1006.20 971.26,1007.09 971.90,1007.97 C972.54,1008.86 973.17,1009.72 973.81,1010.57 C974.45,1011.42 975.09,1012.26 975.73,1013.08 C976.37,1013.91 977.01,1014.73 977.64,1015.51 C978.27,1016.30 978.90,1017.05 979.52,1017.77 C980.14,1018.50 980.74,1019.18 981.35,1019.86 C981.96,1020.55 982.58,1021.22 983.19,1021.88 C983.80,1022.55 984.41,1023.20 985.02,1023.84 C985.63,1024.48 986.25,1025.11 986.86,1025.73 C987.47,1026.35 988.08,1026.96 988.69,1027.56 C989.30,1028.16 989.92,1028.75 990.53,1029.34 C991.14,1029.92 991.75,1030.49 992.36,1031.05 C992.97,1031.62 993.59,1032.17 994.20,1032.72 C994.81,1033.27 995.42,1033.81 996.03,1034.34 C996.64,1034.87 997.26,1035.39 997.87,1035.91 C998.48,1036.42 999.09,1036.93 999.70,1037.43 C1000.31,1037.93 1000.93,1038.42 1001.54,1038.91 C1002.15,1039.39 1002.76,1039.87 1003.37,1040.34 C1003.98,1040.81 1004.60,1041.28 1005.21,1041.74 C1005.82,1042.19 1006.43,1042.65 1007.04,1043.09 C1007.65,1043.54 1008.27,1043.98 1008.88,1044.41 C1009.49,1044.84 1010.10,1045.27 1010.71,1045.69 C1011.32,1046.11 1011.94,1046.53 1012.55,1046.94 C1013.16,1047.35 1013.77,1047.75 1014.38,1048.15 C1014.99,1048.56 1015.15,1048.67 1016.20,1049.39 C1017.25,1050.11 1019.18,1051.47 1020.68,1052.47 C1022.17,1053.47 1023.66,1054.44 1025.16,1055.38 C1026.65,1056.32 1028.15,1057.24 1029.64,1058.13 C1031.13,1059.02 1032.63,1059.88 1034.12,1060.72 C1035.61,1061.57 1037.11,1062.38 1038.60,1063.18 C1040.10,1063.98 1041.59,1064.76 1043.08,1065.52 C1044.58,1066.28 1046.07,1067.02 1047.56,1067.74 C1049.06,1068.46 1050.55,1069.16 1052.05,1069.85 C1053.54,1070.54 1055.03,1071.21 1056.53,1071.87 C1058.02,1072.52 1059.51,1073.16 1061.01,1073.79 C1062.50,1074.41 1064.00,1075.02 1065.49,1075.62 C1066.98,1076.22 1068.48,1076.80 1069.97,1077.38 C1071.46,1077.95 1072.96,1078.51 1074.45,1079.05 C1075.95,1079.60 1077.44,1080.14 1078.93,1080.66 C1080.43,1081.19 1081.92,1081.70 1083.41,1082.21 C1084.91,1082.71 1086.40,1083.21 1087.91,1083.69 C1089.42,1084.18 1090.95,1084.66 1092.47,1085.13 C1094.00,1085.60 1095.52,1086.06 1097.04,1086.51 C1098.56,1086.96 1100.08,1087.41 1101.60,1087.84 C1103.12,1088.28 1104.64,1088.70 1106.16,1089.12 C1107.68,1089.54 1109.20,1089.96 1110.72,1090.36 C1112.25,1090.77 1113.77,1091.16 1115.29,1091.56 C1116.81,1091.95 1118.33,1092.33 1119.85,1092.71 C1121.37,1093.09 1122.89,1093.46 1124.41,1093.82 C1125.93,1094.19 1127.45,1094.55 1128.97,1094.90 C1130.50,1095.26 1132.02,1095.60 1133.54,1095.95 C1135.06,1096.29 1136.58,1096.63 1138.10,1096.96 C1139.62,1097.29 1141.14,1097.62 1142.66,1097.94 C1144.18,1098.26 1145.70,1098.58 1147.22,1098.89 C1148.75,1099.20 1150.27,1099.51 1151.79,1099.81 C1153.31,1100.11 1154.83,1100.41 1156.35,1100.71 C1157.87,1101.00 1159.39,1101.29 1160.91,1101.58 C1162.43,1101.86 1163.95,1102.14 1165.47,1102.42 C1167.00,1102.70 1168.52,1102.97 1170.04,1103.25 C1171.56,1103.52 1173.08,1103.78 1174.60,1104.05 C1176.12,1104.31 1177.64,1104.57 1179.16,1104.82 C1180.68,1105.08 1182.20,1105.33 1183.72,1105.58 C1185.25,1105.83 1186.77,1106.08 1188.29,1106.32 C1189.81,1106.56 1191.33,1106.80 1192.85,1107.04 C1194.37,1107.28 1195.89,1107.51 1197.41,1107.74 C1198.93,1107.98 1200.45,1108.20 1201.97,1108.43 C1203.50,1108.66 1205.02,1108.88 1206.54,1109.10 C1208.06,1109.32 1209.58,1109.54 1211.10,1109.75 C1212.62,1109.97 1214.14,1110.18 1215.66,1110.39 C1217.18,1110.60 1218.70,1110.81 1220.22,1111.01 C1221.75,1111.22 1223.27,1111.42 1224.79,1111.62 C1226.31,1111.82 1227.83,1112.02 1229.35,1112.22 C1230.87,1112.41 1232.39,1112.61 1233.91,1112.80 C1235.43,1112.99 1236.95,1113.18 1238.47,1113.37 C1240.00,1113.56 1241.52,1113.74 1243.04,1113.93 C1244.56,1114.11 1246.08,1114.29 1247.60,1114.47 C1249.12,1114.65 1250.64,1114.83 1252.16,1115.01 C1253.68,1115.19 1255.20,1115.36 1256.72,1115.53 C1258.25,1115.71 1259.77,1115.88 1261.29,1116.05 C1262.81,1116.22 1264.33,1116.39 1265.85,1116.55 C1267.37,1116.72 1268.89,1116.88 1270.41,1117.05 C1271.93,1117.21 1273.45,1117.37 1274.97,1117.53 C1276.50,1117.69 1278.02,1117.85 1279.54,1118.01 C1281.06,1118.16 1282.58,1118.32 1284.10,1118.47 C1285.62,1118.63 1287.14,1118.78 1288.66,1118.93 C1290.18,1119.08 1291.70,1119.23 1293.22,1119.38 C1294.75,1119.53 1296.27,1119.68 1297.79,1119.82 C1299.31,1119.97 1301.59,1120.19 1302.35,1120.26" fill="none" stroke="#e0007f" stroke-width="2.6" stroke-linecap="round"/><circle cx="905.20" cy="748.60" r="5.8" fill="#e0007f"/><circle cx="922.70" cy="879.50" r="5.8" fill="#e0007f"/><circle cx="940.30" cy="947.20" r="5.8" fill="#e0007f"/><circle cx="978.60" cy="1016.70" r="5.8" fill="#e0007f"/><circle cx="1015.30" cy="1048.75" r="5.8" fill="#e0007f"/><circle cx="1087.00" cy="1083.40" r="5.8" fill="#e0007f"/><circle cx="1306.00" cy="1120.60" r="5.8" fill="#e0007f"/><text x="798.50" y="839.50" font-size="26" fill="#e98346" stroke="#e4f1f7" stroke-width="0.25" text-anchor="middle">v</text><text x="798.50" y="872.50" font-size="26" fill="#e98346" stroke="#e4f1f7" stroke-width="0.25" text-anchor="middle">e</text><text x="798.50" y="905.50" font-size="26" fill="#e98346" stroke="#e4f1f7" stroke-width="0.25" text-anchor="middle">l</text><text x="798.50" y="938.50" font-size="26" fill="#e98346" stroke="#e4f1f7" stroke-width="0.25" text-anchor="middle">o</text><text x="798.50" y="971.50" font-size="26" fill="#e98346" stroke="#e4f1f7" stroke-width="0.25" text-anchor="middle">c</text><text x="798.50" y="1004.50" font-size="26" fill="#e98346" stroke="#e4f1f7" stroke-width="0.25" text-anchor="middle">i</text><text x="798.50" y="1037.50" font-size="26" fill="#e98346" stroke="#e4f1f7" stroke-width="0.25" text-anchor="middle">d</text><text x="798.50" y="1070.50" font-size="26" fill="#e98346" stroke="#e4f1f7" stroke-width="0.25" text-anchor="middle">a</text><text x="798.50" y="1103.50" font-size="26" fill="#e98346" stroke="#e4f1f7" stroke-width="0.25" text-anchor="middle">d</text><text x="1050.40" y="1208.40" font-size="24" fill="#e98346" stroke="#e4f1f7" stroke-width="0.25" textLength="156" lengthAdjust="spacingAndGlyphs">tiempo (horas)</text><text x="863.50" y="722.30" font-size="24" fill="#231f20" stroke="#e4f1f7" stroke-width="0.5">y</text><text x="1388.50" y="1158.50" font-size="24" fill="#231f20" stroke="#e4f1f7" stroke-width="0.5">x</text></svg><svg width="1536" height="2048" style="position:absolute;left:0;top:0" viewBox="0 0 1536 2048">
<!-- shadows -->
<ellipse cx="1160" cy="1581" rx="82" ry="19.5" fill="#d5d0a1"/>
<ellipse cx="1300" cy="1569" rx="76" ry="19.5" fill="#d5d0a1"/>
<!-- ===== Worker 1 (back view) ===== -->
<!-- blueprint paper -->
<path d="M1120,1303 L1180,1296 L1237.5,1290 L1232,1300 L1222,1330 L1218,1360 L1217,1388 L1190,1384 L1186,1330 L1118,1330 Z" fill="#eeeeee" stroke="#b9b9b9" stroke-width="1.2"/>
<path d="M1130,1305 L1225,1294 L1214,1330 L1212,1380 L1196,1378 L1190,1320 Z" fill="#fafafa"/>
<!-- roof drawing -->
<path d="M1146,1316 L1190,1302 L1204,1322 L1160,1334 Z" fill="#c99a80" stroke="#8a4b2f" stroke-width="2"/>
<path d="M1150,1318 L1196,1309 M1153,1325 L1200,1316 M1160,1307 L1168,1332 M1172,1305 L1180,1330 M1184,1303 L1192,1327" stroke="#8a4b2f" stroke-width="1.6" fill="none"/>
<path d="M1202,1323 L1200,1345" stroke="#8a4b2f" stroke-width="1.6"/>
<!-- left arm (gray) -->
<path d="M1112,1330 C1100,1338 1094,1355 1094,1372 C1094,1385 1098,1392 1106,1395 L1112,1393 Z" fill="#8e8f92"/>
<path d="M1100,1345 C1097,1360 1097,1376 1101,1386" stroke="#b8b9bc" stroke-width="3" fill="none"/>
<!-- right arm (gray) -->
<path d="M1180,1328 C1192,1334 1205,1340 1218,1338 L1225,1345 C1226,1356 1222,1370 1215,1378 C1205,1378 1195,1374 1186,1370 Z" fill="#8b8c90"/>
<path d="M1212,1338 C1218,1335 1226,1338 1229,1346 L1222,1350 C1220,1344 1216,1342 1212,1342 Z" fill="#c4c5c8"/>
<!-- hand -->
<path d="M1214,1312 C1218,1305 1228,1302 1232,1310 C1236,1318 1233,1330 1226,1337 L1216,1338 C1212,1330 1211,1320 1214,1312 Z" fill="#f3b07e"/>
<!-- neck / ear / face side -->
<path d="M1158,1272 C1164,1266 1173,1266 1177,1274 C1180,1284 1179,1298 1174,1306 C1169,1312 1162,1313 1157,1310 C1155,1298 1155,1284 1158,1272 Z" fill="#f2ae7f"/>
<path d="M1163,1287 C1166,1284 1169,1287 1168,1292 C1167,1296 1164,1297 1162,1295" stroke="#c97a52" stroke-width="1" fill="none"/>
<path d="M1128,1300 C1138,1309 1150,1314 1160,1311 L1162,1320 L1132,1320 Z" fill="#cfcfcf"/>
<path d="M1138,1303 C1145,1308 1152,1309 1158,1307" stroke="#8a6a55" stroke-width="2" fill="none"/>
<!-- vest -->
<path d="M1110,1326 C1125,1318 1145,1316 1160,1317 C1170,1318 1180,1322 1185,1328 C1187,1360 1187,1390 1186,1418 L1109,1418 C1108,1390 1108,1355 1110,1326 Z" fill="#bfe22a"/>
<path d="M1110,1326 C1110,1355 1109,1390 1109,1418 L1118,1418 C1116,1390 1116,1350 1118,1328 Z" fill="#94cc25"/>
<path d="M1178,1325 C1182,1360 1182,1395 1180,1418 L1186,1418 C1187,1390 1187,1360 1185,1328 Z" fill="#94cc25"/>
<path d="M1122,1367 L1168,1368 L1165,1382 L1128,1381 Z" fill="#f2f8c8"/>
<path d="M1118,1375 L1126,1372 L1128,1381 L1119,1381 Z" fill="#e8f4b8"/>
<path d="M1125,1400 L1160,1401 L1156,1410 C1145,1413 1134,1412 1128,1408 Z" fill="#f2f8c8"/>
<path d="M1120,1350 C1130,1370 1145,1392 1150,1402" stroke="#a8d422" stroke-width="1.2" fill="none"/>
<!-- jeans -->
<path d="M1111.5,1418 L1186,1418 C1192,1440 1199,1470 1203,1500 C1207,1525 1212,1550 1214,1567 L1190,1578 C1186,1560 1180,1530 1172,1505 C1165,1485 1157,1460 1151,1442 C1148,1460 1146,1490 1146,1520 C1146,1545 1146,1565 1145,1580 L1121.5,1583 C1120,1560 1119,1530 1117,1500 C1114,1470 1112,1445 1111.5,1418 Z" fill="#3f5fa8"/>
<path d="M1111.5,1418 C1112,1445 1114,1470 1117,1500 C1119,1530 1120,1560 1121.5,1583 L1127,1582 C1125,1550 1122,1500 1118,1450 L1116,1420 Z" fill="#304c94"/>
<path d="M1186,1418 C1192,1440 1199,1470 1203,1500 C1207,1525 1212,1550 1214,1567 L1207,1569 C1203,1540 1196,1490 1185,1440 Z" fill="#304c94"/>
<path d="M1128,1420 L1150,1420 L1150,1436 L1132,1440 Z" fill="#35539b"/>
<path d="M1156,1420 L1180,1420 L1176,1440 L1158,1436 Z" fill="#35539b"/>
<!-- shoes worker 1 -->
<path d="M1122,1577 C1130,1572 1145,1569 1154,1573 C1158,1580 1152,1590 1140,1595 L1126,1596 C1122,1590 1121,1583 1122,1577 Z" fill="#a67530"/>
<path d="M1145,1571 C1153,1570 1158,1576 1155,1584 C1152,1590 1146,1593 1140,1595 C1148,1588 1152,1580 1145,1571 Z" fill="#6a4016"/>
<path d="M1190,1575 C1205,1570 1230,1570 1240,1576 C1243,1584 1238,1592 1220,1595 L1195,1595 C1191,1590 1189,1582 1190,1575 Z" fill="#a67530"/>
<path d="M1228,1571 C1238,1572 1243,1578 1241,1586 C1238,1591 1230,1593 1222,1594 C1234,1588 1238,1580 1228,1571 Z" fill="#6a4016"/>
<!-- helmet worker 1 -->
<path d="M1120,1248 C1132,1239 1152,1238 1165,1246 C1174,1252 1175,1262 1172,1272 C1168,1285 1160,1298 1145,1304 C1132,1308 1118,1304 1110,1294 C1104,1284 1106,1265 1120,1248 Z" fill="#f7c51a" stroke="#d99a08" stroke-width="1.2"/>
<path d="M1125,1252 C1140,1244 1158,1246 1163,1256 C1166,1266 1158,1280 1146,1286 C1136,1290 1124,1286 1120,1276 C1117,1266 1119,1257 1125,1252 Z" fill="#fbd73a"/>
<path d="M1113,1280 L1131,1277 L1136,1294 L1118,1300 Z" fill="#f9cd2c" stroke="#d99a08" stroke-width="1"/>
<path d="M1162,1254 C1170,1250 1176,1254 1173,1262" stroke="#d99a08" stroke-width="1.2" fill="none"/>

<!-- ===== Worker 2 (front view) ===== -->
<!-- wooden block -->
<rect x="1256" y="1554" width="65" height="22" fill="#f2c47d" stroke="#d08c3c" stroke-width="1.2"/>
<line x1="1256" y1="1565" x2="1321" y2="1565" stroke="#d08c3c" stroke-width="1.2"/>
<path d="M1260,1559 L1316,1559 M1262,1570 L1318,1570" stroke="#f9dca6" stroke-width="1.4"/>
<!-- jeans -->
<path d="M1311,1399 L1342,1399 C1355,1410 1365,1420 1368,1436 C1372,1460 1374,1490 1374,1510 C1375,1530 1376,1545 1376.5,1557 L1352.5,1558 C1351,1540 1349,1515 1348,1490 C1346,1465 1342,1445 1338,1430 C1330,1440 1320,1452 1316,1466 C1315,1490 1315,1515 1315.5,1542 L1291,1537 C1291,1510 1291,1485 1292.5,1465 C1294,1445 1302,1420 1311,1404 Z" fill="#4063ac"/>
<path d="M1311,1404 C1302,1420 1294,1445 1292.5,1465 C1291,1485 1291,1510 1291,1537 L1297,1538 C1297,1500 1297,1470 1300,1450 C1303,1430 1308,1416 1315,1406 Z" fill="#2f4d95"/>
<path d="M1368,1436 C1372,1460 1374,1490 1374,1510 C1375,1530 1376,1545 1376.5,1557 L1370,1557 C1369,1520 1367,1470 1362,1440 Z" fill="#2f4d95"/>
<!-- shoes worker 2 -->
<path d="M1266,1547 C1275,1538 1292,1536 1312,1541 C1316,1546 1315,1554 1311,1558 L1285,1557 C1275,1556 1266,1554 1266,1547 Z" fill="#7d3f18"/>
<path d="M1272,1543 C1282,1539 1295,1539 1305,1542 C1296,1545 1284,1546 1272,1543 Z" fill="#a0582a"/>
<path d="M1342,1568 C1345,1560 1360,1556 1375,1559 C1378,1568 1374,1578 1362,1581 L1345,1582 C1341,1578 1340,1573 1342,1568 Z" fill="#8c4a1f"/>
<path d="M1346,1566 C1352,1561 1364,1560 1372,1562 C1364,1566 1354,1568 1346,1566 Z" fill="#ad652f"/>
<!-- tool pouch -->
<path d="M1340,1398 L1372,1398 L1373,1432 C1365,1438 1350,1440 1343,1438 Z" fill="#4b5a5f"/>
<path d="M1345,1412 L1370,1412 M1352,1414 L1353,1436 M1362,1414 L1363,1434" stroke="#38474b" stroke-width="1.2"/>
<!-- shirt torso -->
<path d="M1316,1330 C1330,1323 1345,1321 1360,1324 C1375,1328 1385,1340 1389,1360 C1391,1375 1391,1390 1390,1398 L1370,1402 L1322,1402 C1318,1380 1316,1355 1316,1330 Z" fill="#46875a"/>
<path d="M1340,1324 L1348,1340 L1356,1324 Z" fill="#f5c29a"/>
<path d="M1336,1322 L1345,1345 L1330,1335 Z M1360,1324 L1352,1345 L1366,1334 Z" fill="#3d7a50"/>
<path d="M1346,1345 L1346,1400" stroke="#3a744c" stroke-width="1.2"/>
<!-- right arm (viewer right) sleeve -->
<path d="M1375,1330 C1386,1338 1392,1360 1391,1385 L1384,1398 L1368,1396 C1372,1380 1374,1360 1370,1340 Z" fill="#3f7e52"/>
<!-- raised arm sleeve -->
<path d="M1316,1338 C1305,1345 1292,1350 1284,1345 L1274,1352 C1278,1365 1290,1376 1305,1375 C1315,1372 1320,1362 1321,1350 Z" fill="#46875a"/>
<path d="M1276,1340 L1286,1342 L1285,1356 L1275,1352 Z" fill="#3a744c"/>
<!-- pointing hand -->
<path d="M1257,1301 C1262,1305 1266,1313 1269,1320 C1275,1324 1279,1332 1278,1340 L1266,1342 C1258,1340 1251,1334 1251,1326 C1251,1320 1255,1318 1262,1318 C1258,1312 1255,1306 1257,1301 Z" fill="#f6b98a"/>
<!-- drill -->
<path d="M1282,1412 L1300,1402" stroke="#3a3a3a" stroke-width="2.6"/>
<path d="M1298,1402 L1310,1392 L1318,1400 L1306,1410 Z" fill="#555"/>
<path d="M1312,1392 L1324,1385 L1330,1396 L1318,1402 Z" fill="#3d3d3d"/>
<path d="M1322,1384 L1346,1376 C1350,1378 1352,1386 1350,1392 L1330,1398 Z" fill="#d8333a"/>
<path d="M1338,1396 L1347,1392 L1350,1412 L1343,1414 Z" fill="#c92c33"/>
<!-- hand on drill -->
<path d="M1332,1392 C1340,1385 1355,1384 1368,1386 C1372,1392 1370,1400 1365,1405 L1345,1406 C1338,1404 1332,1399 1332,1392 Z" fill="#f6bd8e"/>
<!-- face -->
<path d="M1307,1286 C1306,1276 1311,1269 1318,1266 L1350,1269 C1356,1282 1357,1302 1355,1318 C1346,1323 1331,1324 1320,1319 C1310,1313 1306,1299 1307,1286 Z" fill="#f8c9a0"/>
<!-- hair -->
<path d="M1311,1262 C1322,1256 1340,1258 1354,1266 L1357,1277 C1350,1272 1343,1271 1336,1273 C1330,1269 1322,1271 1316,1276 C1313,1272 1311,1267 1311,1262 Z" fill="#2f2a3c"/>
<path d="M1349,1266 C1362,1272 1373,1287 1379,1305 C1379,1314 1373,1319 1364,1319 L1355,1319 C1357,1300 1356,1282 1349,1266 Z" fill="#2f2a3c"/>
<path d="M1318,1319 C1328,1323 1344,1323 1356,1318" stroke="#3a2a2a" stroke-width="2.2" fill="none"/>
<!-- ear -->
<ellipse cx="1360.5" cy="1307" rx="5.8" ry="6.2" fill="#f6bd8e"/>
<!-- chin strap -->
<path d="M1358.5,1281 L1355,1317 L1376,1305" stroke="#7a7a7a" stroke-width="1.5" fill="none"/>
<!-- eyes -->
<ellipse cx="1318.3" cy="1284.6" rx="4.6" ry="5.6" fill="#fff"/>
<ellipse cx="1318.8" cy="1285" rx="3.4" ry="4.3" fill="#1f4f8c"/>
<circle cx="1317.8" cy="1283.4" r="1.1" fill="#fff"/>
<ellipse cx="1338.4" cy="1289.9" rx="4.6" ry="6" fill="#fff"/>
<ellipse cx="1338.8" cy="1290.3" rx="3.4" ry="4.5" fill="#1f4f8c"/>
<circle cx="1337.8" cy="1288.6" r="1.1" fill="#fff"/>
<path d="M1315,1277.5 C1318,1275.5 1321,1276 1324,1278 M1332,1278.5 C1337,1276.5 1343,1278 1347,1283" stroke="#6b3b22" stroke-width="1.6" fill="none"/>
<path d="M1318,1291 C1316,1294 1317,1297 1320,1298" stroke="#b56a4a" stroke-width="1" fill="none"/>
<path d="M1321.5,1308 C1327,1311 1332,1310 1335.5,1304.5" stroke="#8a4b2f" stroke-width="1.3" fill="none"/>
<!-- helmet worker 2 -->
<path d="M1308.6,1257 C1312,1246 1330,1237 1347,1236 C1365,1236 1382,1246 1388,1260 C1393,1272 1392,1292 1388,1305 C1385,1313 1380,1317 1376,1316 L1377.5,1306 C1375,1295 1371,1287 1365,1280 C1358,1272 1345,1264 1333,1261 C1322,1259 1313,1260 1309.5,1262 Z" fill="#f6c619" stroke="#d99a08" stroke-width="1.1"/>
<path d="M1322,1247 C1335,1240 1355,1240 1368,1246 C1378,1251 1384,1260 1385,1270 C1372,1262 1352,1254 1332,1252 Z" fill="#fcdc3c"/>
<path d="M1310,1259 C1322,1255 1340,1256 1356,1264 C1371,1273 1381,1290 1384,1312" stroke="#e0a50c" stroke-width="3" fill="none"/>
<path d="M1310,1257.5 C1322,1253.5 1340,1254.5 1356,1262.5 C1371,1271.5 1382,1289 1385.5,1311" stroke="#c98e05" stroke-width="0.9" fill="none"/>
<!-- Freepik credit -->
<text x="0" y="0" transform="translate(1423,1562) rotate(-90)" font-size="11.5" fill="#8a8f92" font-family="Liberation Sans, sans-serif">©Freepik</text>
</svg>

</body></html>
